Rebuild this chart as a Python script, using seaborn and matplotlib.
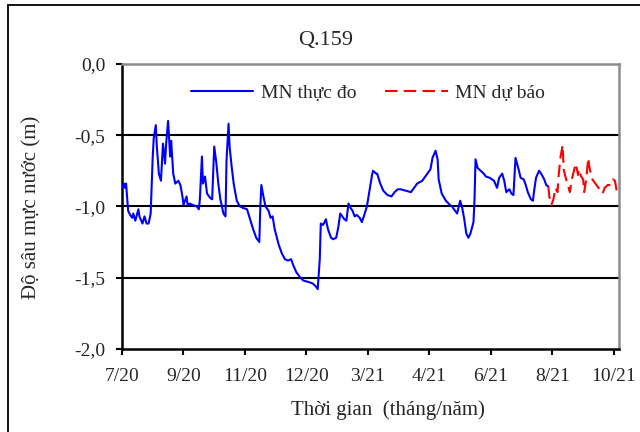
"""
Q.159 groundwater depth chart: observed vs forecast.
"""

import matplotlib
matplotlib.use("Agg")
import matplotlib.pyplot as plt
import matplotlib.patches as mpatches
from matplotlib.ticker import FuncFormatter
import seaborn as sns
import pandas as pd

# observed level (m), x = step index along the category axis (60 steps per tick)
obs_day = [0, 2, 3, 4, 6, 8, 10, 11, 13, 16, 17, 20, 22, 24, 26, 28, 30, 31, 33, 34,
           36, 38, 40, 42, 43, 45, 47, 48, 50, 52, 55, 57, 59, 60, 63, 64, 66, 69, 73, 75,
           76, 78, 79, 81, 83, 86, 88, 90, 92, 94, 96, 99, 101, 102, 104, 105, 107, 109, 112, 115,
           118, 122, 125, 128, 131, 134, 135, 136, 138, 140, 143, 145, 147, 149, 153, 156, 159, 162, 165, 167,
           170, 174, 177, 182, 186, 189, 191, 193, 194, 196, 197, 199, 201, 204, 206, 209, 211, 213, 215, 217,
           219, 221, 223, 225, 227, 229, 232, 234, 236, 239, 242, 244, 245, 248,
           249, 252, 255, 259, 263, 266, 269, 272, 277, 282, 285, 288, 293, 296, 301, 303, 306, 308, 309, 312,
           316, 320, 322, 325, 327, 330, 332, 334, 336, 338, 340, 343, 344, 345, 347, 350, 353, 355, 359, 363,
           366, 368, 371, 373, 375, 378, 380, 382, 384, 387, 389, 392, 394, 396, 399, 401, 402, 404, 407, 409,
           412, 414, 416]
obs_level = [-0.87, -0.84, -0.87, -0.84, -1.03, -1.06, -1.08, -1.05, -1.10, -1.02, -1.07, -1.12, -1.07, -1.12, -1.12, -1.05, -0.65, -0.52, -0.43, -0.58,
             -0.77, -0.82, -0.56, -0.70, -0.57, -0.40, -0.65, -0.54, -0.77, -0.84, -0.82, -0.85, -0.93, -0.99, -0.93, -0.99, -0.98, -0.99, -1.00, -1.02,
             -0.95, -0.65, -0.84, -0.79, -0.91, -0.94, -0.95, -0.58, -0.69, -0.84, -0.95, -1.05, -1.07, -0.68, -0.42, -0.58, -0.72, -0.84, -0.96, -1.00,
             -1.01, -1.02, -1.09, -1.16, -1.22, -1.25, -1.00, -0.85, -0.93, -1.00, -1.03, -1.08, -1.07, -1.16, -1.27, -1.33, -1.37, -1.38, -1.37, -1.41,
             -1.46, -1.50, -1.52, -1.53, -1.54, -1.56, -1.58, -1.37, -1.12, -1.13, -1.12, -1.09, -1.16, -1.22, -1.23, -1.22, -1.15, -1.05, -1.07, -1.09,
             -1.10, -0.98, -1.01, -1.03, -1.07, -1.06, -1.08, -1.11, -1.07, -1.00, -0.87, -0.78, -0.75, -0.77,
             -0.77, -0.84, -0.89, -0.92, -0.93, -0.90, -0.88, -0.88, -0.89, -0.90, -0.87, -0.84, -0.82, -0.79, -0.74, -0.66, -0.61, -0.67, -0.81, -0.91,
             -0.96, -0.99, -1.00, -1.03, -1.05, -0.96, -1.01, -1.09, -1.19, -1.22, -1.19, -1.11, -0.95, -0.67, -0.73, -0.75, -0.77, -0.79, -0.80, -0.82,
             -0.87, -0.80, -0.77, -0.82, -0.90, -0.88, -0.91, -0.92, -0.66, -0.74, -0.80, -0.81, -0.85, -0.90, -0.95, -0.96, -0.90, -0.80, -0.75, -0.77,
             -0.81, -0.85, -0.86]

# forecast level (m)
fc_day = [416, 417, 419, 421, 423, 425, 426, 428, 430, 431, 433, 435, 437, 439, 442, 443, 445, 446, 448, 450,
          451, 453, 455, 456, 458, 459, 462, 464, 466, 469, 471, 474, 477, 479, 481, 483]
fc_level = [-0.86, -0.93, -0.99, -0.95, -0.87, -0.90, -0.79, -0.65, -0.57, -0.74, -0.80, -0.85, -0.90, -0.81, -0.72, -0.70, -0.78, -0.74, -0.79, -0.81,
            -0.90, -0.81, -0.66, -0.72, -0.79, -0.81, -0.84, -0.86, -0.88, -0.91, -0.87, -0.85, -0.85, -0.81, -0.82, -0.90]

tick_pos = [0, 60, 120, 180, 240, 300, 360, 420, 480]
tick_labels = ["7/20", "9/20", "11/20", "12/20", "3/21", "4/21", "6/21", "8/21", "10/21"]
y_ticks = [0.0, -0.5, -1.0, -1.5, -2.0]

sns.set_theme(style="white")
plt.rcParams["font.family"] = ["Liberation Serif", "DejaVu Serif"]

obs_df = pd.DataFrame({"day": obs_day, "level": obs_level})
fc_df = pd.DataFrame({"day": fc_day, "level": fc_level})

fig = plt.figure(figsize=(6.4, 4.32), dpi=100)
ax = fig.add_axes([0.1906, 0.1921, 0.7766, 0.6602])

# horizontal grid lines
for yv in [-0.5, -1.0, -1.5]:
    ax.axhline(yv, color="black", lw=1.5, zorder=1)

sns.lineplot(data=obs_df, x="day", y="level", ax=ax, color="#0000ff", lw=1.5,
             estimator=None, label="MN thực đo", zorder=3)
sns.lineplot(data=fc_df, x="day", y="level", ax=ax, color="#ff0000", lw=1.5,
             estimator=None, label="MN dự báo", zorder=3)
ax.lines[-1].set_linestyle((0, (6, 3)))

ax.set_xlim(0, 485)
ax.set_ylim(-2.0, 0.0)
ax.set_xticks(tick_pos)
ax.set_xticklabels(tick_labels)
ax.set_yticks(y_ticks)
ax.yaxis.set_major_formatter(FuncFormatter(lambda v, p: f"{abs(v):.1f}".replace(".", ",") if v == 0
                                           else f"{v:.1f}".replace(".", ",")))
ax.tick_params(axis="both", direction="out", length=4, width=1.5, color="black",
               labelsize=14, bottom=True, left=True)
ax.tick_params(axis="x", pad=10)
ax.tick_params(axis="y", pad=8)

for side in ["left", "bottom"]:
    ax.spines[side].set_color("black")
    ax.spines[side].set_linewidth(1.8)
for side in ["top", "right"]:
    ax.spines[side].set_color("#8c8c8c")
    ax.spines[side].set_linewidth(1.8)

ax.set_xlabel("")
ax.set_ylabel("")
fig.text(388 / 640, 1 - 410 / 432, "Thời gian  (tháng/năm)", ha="center", va="center", fontsize=15)
fig.text(32 / 640, 1 - 207 / 432, "Độ sâu mực nước (m)", ha="center", va="center",
         rotation=90, fontsize=15)
fig.text(326 / 640, 1 - 41 / 432, "Q.159", ha="center", va="center", fontsize=16)

leg = ax.legend(loc="center", bbox_to_anchor=(0.495, 0.898), ncol=2, frameon=False,
                fontsize=14, handlelength=3.2, handletextpad=0.4, columnspacing=1.5)

# outer chart border
fig.patches.append(mpatches.Rectangle((8 / 640, -0.1), 1.0, 1.1 - 5 / 432, transform=fig.transFigure,
                                      fill=False, edgecolor="black", lw=1.3))

fig.savefig("out.png", dpi=100)
plt.close()
